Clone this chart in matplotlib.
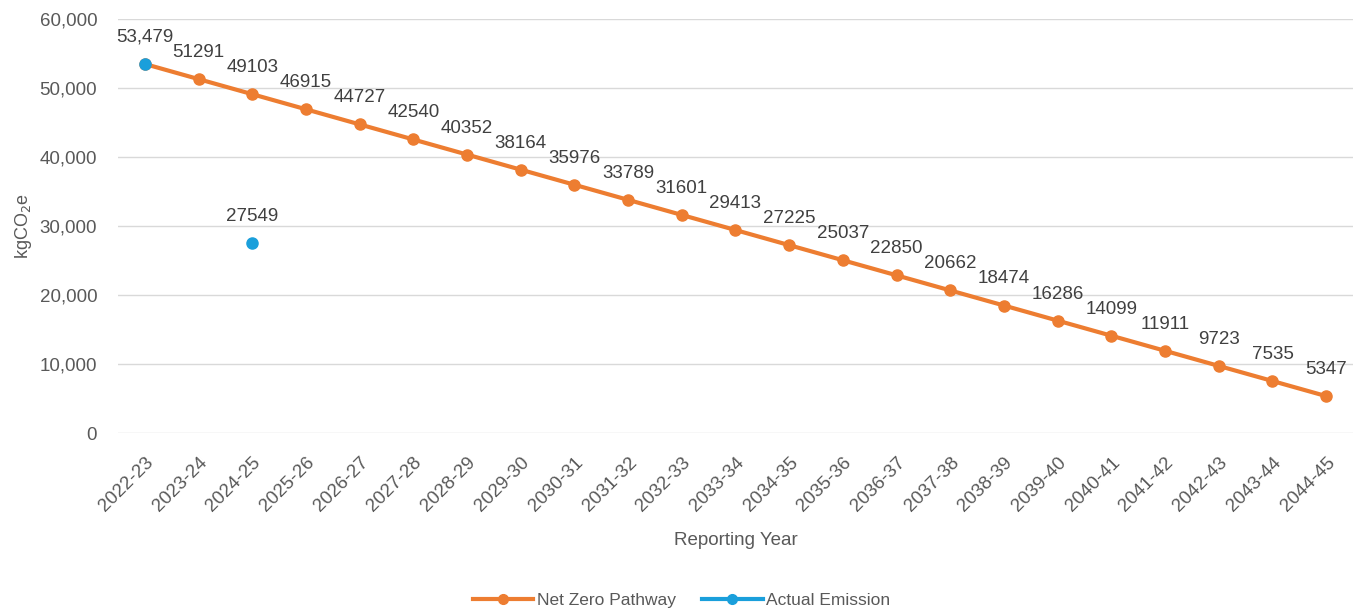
import matplotlib.pyplot as plt
from matplotlib.lines import Line2D
import numpy as np

# data
years = ['2022-23', '2023-24', '2024-25', '2025-26', '2026-27', '2027-28', '2028-29',
         '2029-30', '2030-31', '2031-32', '2032-33', '2033-34', '2034-35', '2035-36',
         '2036-37', '2037-38', '2038-39', '2039-40', '2040-41', '2041-42', '2042-43',
         '2043-44', '2044-45']
net_zero = [53479, 51291, 49103, 46915, 44727, 42540, 40352, 38164, 35976, 33789,
            31601, 29413, 27225, 25037, 22850, 20662, 18474, 16286, 14099, 11911,
            9723, 7535, 5347]
actual_years = ['2022-23', '2024-25']
actual = [53479, 27549]

orange = '#ED7D31'
blue = '#1A9FDB'
grey = '#595959'

plt.rcParams['font.family'] = ['Liberation Sans', 'DejaVu Sans']

fig = plt.figure(figsize=(13.63, 6.13), dpi=100)
ax = fig.add_axes([118 / 1363, 1 - 433 / 613, (1353 - 118) / 1363, (433 - 19) / 613])

x = np.arange(len(years))
ax.plot(x, net_zero, color=orange, lw=3, marker='o', ms=8, zorder=3)
ax_x = [years.index(y) for y in actual_years]
ax.plot(ax_x, actual, color=blue, marker='o', ms=8, ls='none', zorder=4)

# data labels
for i, v in enumerate(net_zero):
    if i == 0:
        continue
    ax.annotate(str(v), (i, v), xytext=(0, 13), textcoords='offset points',
                ha='center', va='bottom', fontsize=13.5, color='#404040')
for i, v in zip(ax_x, actual):
    txt = f'{v:,}' if i == 0 else str(v)
    ax.annotate(txt, (i, v), xytext=(0, 13), textcoords='offset points',
                ha='center', va='bottom', fontsize=13.5, color='#404040')

ax.set_xlim(-0.5, len(years) - 0.5)
ax.set_ylim(0, 60000)
ax.set_yticks(range(0, 60001, 10000))
ax.set_yticklabels([f'{t:,}' for t in range(0, 60001, 10000)])
ax.set_xticks(x)
ax.set_xticklabels(years, rotation=45, ha='right', rotation_mode='anchor')
ax.tick_params(length=0, labelsize=13.5, colors=grey)
ax.tick_params(axis='y', pad=15)
ax.tick_params(axis='x', pad=15)
ax.grid(axis='y', color='#D9D9D9', lw=1)
ax.set_axisbelow(True)
for s in ax.spines.values():
    s.set_visible(False)

ax.set_ylabel('kgCO$_2$e', fontsize=13, color=grey, labelpad=4)
ax.set_xlabel('Reporting Year', fontsize=13.5, color=grey, labelpad=12)

handles = [Line2D([], [], color=orange, lw=3, marker='o', ms=7),
           Line2D([], [], color=blue, lw=3, marker='o', ms=7)]
fig.legend(handles, ['Net Zero Pathway', 'Actual Emission'], loc='lower center',
           bbox_to_anchor=(0.5, -0.018), ncol=2, frameon=False,
           fontsize=12.5, labelcolor=grey, handlelength=3.5, handletextpad=0.2,
           columnspacing=1.5)

fig.savefig('out.png', dpi=100)
